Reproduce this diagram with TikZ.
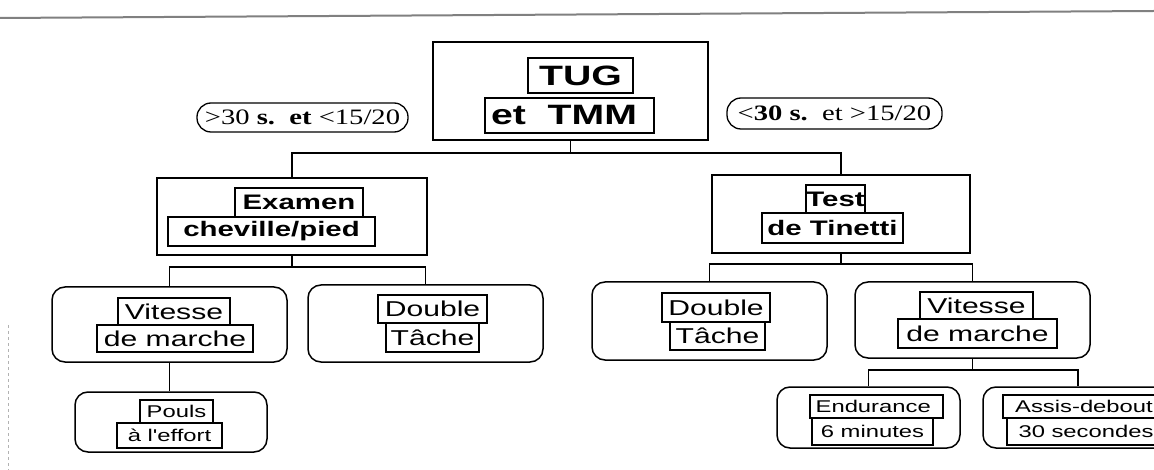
\documentclass[tikz,border=0pt]{standalone}
\usepackage{fontspec}
\newfontfamily\lblfont[FakeStretch=1.4]{Liberation Sans}
\newfontfamily\condfont[FakeStretch=1.3]{Liberation Serif}
\newcommand{\fs}[1]{\fontsize{#1}{#1}\selectfont}

\begin{document}
\begin{tikzpicture}[x=1pt, y=-1pt,
  bigbox/.style={draw, line width=2.8pt, inner sep=0pt},
  leaf/.style={draw, line width=1.5pt, rounded corners=13pt, inner sep=0pt},
  lbl/.style={draw, line width=1.5pt, inner sep=0pt},
  lblA/.style={lbl, font=\lblfont\bfseries\fs{28}},
  lblB/.style={lbl, font=\lblfont\bfseries\fs{21}},
  lblC/.style={lbl, font=\lblfont\fs{21.5}},
  lblD/.style={lbl, line width=1.2pt, font=\lblfont\fs{17}},
  cond/.style={draw, line width=1.3pt, rounded corners=14pt, inner sep=0pt, font=\condfont\fs{22}},
  conn/.style={line width=1.6pt}]
	\useasboundingbox (0,0) rectangle (1154,470);
	\clip (0,0) rectangle (1154,470);
	% page edges
	\draw[gray, line width=2pt] (0,18) -- (1154,11);
	\draw[gray!60, dashed, line width=1pt] (8,325) -- (8,470);
	% root
	\node[bigbox, minimum width=275pt, minimum height=98pt] (tug) at (570.5,91) {};
	\node[lblA, minimum width=105pt, minimum height=35pt] (tug1) at (580.5,75.5) {TUG};
	\node[lblA, minimum width=169pt, minimum height=35pt] (tug2) at (569.5,115.5) {et\ \ TMM\ \ };
	\node[cond, minimum width=211pt, minimum height=29pt] (condl) at (302.5,117.5) {>30 \textbf{s.}\ \ \textbf{et} <15/20};
	\node[cond, minimum width=215pt, minimum height=31pt] (condr) at (834.5,113.5) {<\textbf{30 s.}\ \ et >15/20};
	% level 2
	\node[bigbox, minimum width=270pt, minimum height=77pt] (exam) at (292,216.5) {};
	\node[lblB, minimum width=128pt, minimum height=29pt] (exam1) at (299,202.5) {Examen};
	\node[lblB, minimum width=207pt, minimum height=29pt] (exam2) at (271.5,231.5) {cheville/pied};
	\node[bigbox, minimum width=258pt, minimum height=78pt] (test) at (841,214) {};
	\node[lblB, minimum width=59pt, minimum height=28pt] (test1) at (835.5,199) {Test};
	\node[lblB, minimum width=141pt, minimum height=30pt] (test2) at (832.5,228) {de Tinetti};
	\coordinate (s1) at (570.5,153);
	\draw[conn] (tug.south) -- (s1);
	\draw[conn] (exam.north) |- (s1) -| (test.north);
	% level 3
	\node[leaf, minimum width=235pt, minimum height=75pt] (vitl) at (169.5,324.5) {};
	\node[lblC, minimum width=112pt, minimum height=27pt] (vitl1) at (174,311.5) {Vitesse};
	\node[lblC, minimum width=156pt, minimum height=27pt] (vitl2) at (175,338.5) {de marche};
	\node[leaf, minimum width=235pt, minimum height=77pt] (dbll) at (425.5,323.5) {};
	\node[lblC, minimum width=109pt, minimum height=28pt] (dbll1) at (432.5,309) {Double};
	\node[lblC, minimum width=93pt, minimum height=29pt] (dbll2) at (432.5,337.5) {Tâche};
	\node[leaf, minimum width=235pt, minimum height=78pt] (dblr) at (709.5,321) {};
	\node[lblC, minimum width=108pt, minimum height=29pt] (dblr1) at (716,307.5) {Double};
	\node[lblC, minimum width=95pt, minimum height=28pt] (dblr2) at (717.5,336) {Tâche};
	\node[leaf, minimum width=235pt, minimum height=76pt] (vitr) at (972.5,320) {};
	\node[lblC, minimum width=113pt, minimum height=27pt] (vitr1) at (976.5,305.5) {Vitesse};
	\node[lblC, minimum width=159pt, minimum height=29pt] (vitr2) at (977.5,333.5) {de marche};
	\coordinate (s2) at (292,267);
	\draw[conn] (exam.south) -- (s2);
	\draw[conn] (vitl.north) |- (s2) -| (dbll.north);
	\coordinate (s3) at (841,264);
	\draw[conn] (test.south) -- (s3);
	\draw[conn] (dblr.north) |- (s3) -| (vitr.north);
	% level 4
	\node[leaf, minimum width=192pt, minimum height=60pt] (pouls) at (171,422) {};
	\node[lblD, minimum width=73pt, minimum height=23pt] (pouls1) at (176.5,411.5) {Pouls};
	\node[lblD, minimum width=105pt, minimum height=25pt] (pouls2) at (169.5,435.5) {à l'effort};
	\draw[conn] (vitl.south) -- (vitl.south |- pouls.north);
	\node[leaf, minimum width=183pt, minimum height=61pt] (endu) at (868.5,417.5) {};
	\node[lblD, minimum width=133pt, minimum height=23pt] (endu1) at (876.5,406.5) {Endurance\ \ };
	\node[lblD, minimum width=121pt, minimum height=27pt] (endu2) at (872.5,431.5) {6 minutes\ };
	\node[leaf, minimum width=190pt, minimum height=61pt] (assis) at (1078,417.5) {};
	\node[lblD, minimum width=162pt, minimum height=23pt] (assis1) at (1084,406.5) {Assis-debout};
	\node[lblD, minimum width=158pt, minimum height=27pt] (assis2) at (1086,431.5) {30 secondes};
	\coordinate (s4) at (972.5,370);
	\draw[conn] (vitr.south) -- (s4);
	\draw[conn] (endu.north) |- (s4) -| (assis.north);
\end{tikzpicture}
\end{document}
